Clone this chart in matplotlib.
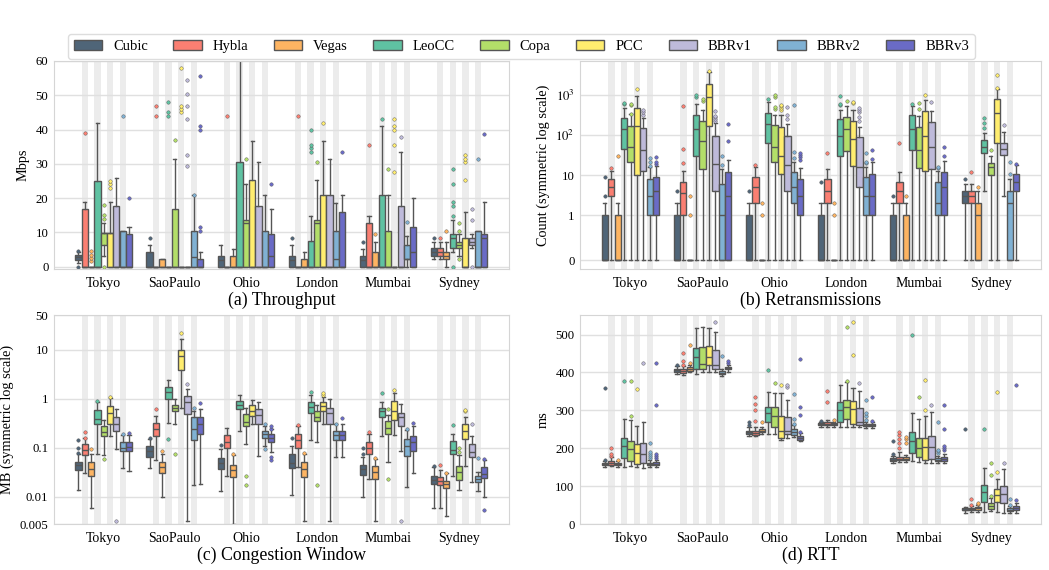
import matplotlib.pyplot as plt
from matplotlib.patches import Patch
import numpy as np

plt.rcParams['font.family'] = 'serif'
plt.rcParams['font.serif'] = ['Liberation Serif', 'DejaVu Serif']
plt.rcParams['mathtext.fontset'] = 'stix'

CITIES = ['Tokyo', 'SaoPaulo', 'Ohio', 'London', 'Mumbai', 'Sydney']
ALGOS = ['Cubic', 'Hybla', 'Vegas', 'LeoCC', 'Copa', 'PCC', 'BBRv1', 'BBRv2', 'BBRv3']
COLORS = ['#4F6578', '#FA7F72', '#FDB462', '#5FC2A2', '#B3DE69',
          '#FFED6F', '#BEBADA', '#80B1D3', '#6A6BC6']
LINE = '#555555'

# box stats per city, per algorithm: (whislo, q1, median, q3, whishi)
THR_STATS = [
    [(1.0, 2.0, 2.7, 3.3, 4.3), (0, 0, 0, 16.8, 19), (0, 0, 0, 0, 0), (0, 0, 0, 25, 42), (3.2, 6.4, 9.7, 9.7, 12.7),
     (0, 0, 9.7, 9.7, 19), (0, 0, 0, 17.8, 26), (0, 0, 0, 10.5, 10.5), (0, 0, 0, 9.5, 11.5)],
    [(0, 0, 0, 4.3, 6.3), (0, 0, 0, 0, 0), (0, 0, 0, 2.1, 2.1), (0, 0, 0, 0, 0), (0, 0, 0, 16.8, 31.5),
     (0, 0, 0, 0, 0), (0, 0, 0, 0, 0), (0, 0, 2.7, 10.5, 21), (0, 0, 0, 2.2, 4.3)],
    [(0, 0, 2, 3.2, 6.3), (0, 0, 0, 0, 0), (0, 0, 0, 3.2, 5.2), (0, 0, 0, 30.5, 62), (0, 0, 12.7, 13.7, 24.2),
     (0, 0, 0, 25.2, 36.8), (0, 0, 0, 17.8, 30.5), (0, 0, 0, 10.5, 21), (0, 0, 3.2, 9.5, 16.8)],
    [(0, 0, 2, 3.2, 6.3), (0, 0, 0, 0, 0), (0, 0, 0, 2.1, 4.3), (0, 0, 0, 7.5, 14.7), (0, 0, 12.7, 13.7, 25.2),
     (0, 0, 0, 21, 36.8), (0, 0, 0, 21, 31.5), (0, 0, 2.2, 10.5, 18.5), (0, 0, 0, 15.8, 21)],
    [(0, 0, 2, 3.2, 5.2), (0, 0, 0, 12.6, 14.7), (0, 0, 0, 4.3, 7.3), (0, 0, 0, 21, 41), (0, 0, 0, 10.5, 21),
     (0, 0, 0, 0, 0), (0, 0, 0, 17.8, 33.5), (0, 2.2, 2.2, 6.3, 9), (0, 0, 4.3, 11.5, 20)],
    [(2.1, 3.2, 4.3, 5.3, 7.3), (2.1, 3.2, 4.3, 5.3, 7.3), (0, 2.1, 3.2, 4.3, 7.3), (4.3, 5.3, 8.5, 9.5, 13.7),
     (3.2, 5.3, 6.3, 7.3, 9.5), (0, 0, 0, 8.4, 15.8), (5.3, 6.3, 7.3, 8.4, 9.5), (0, 0, 0, 10.5, 10.5),
     (0, 0, 8.4, 9.5, 18.8)],
]
THR_FLIERS = [
    [[0, 4.6], [39], [1.5, 2.5, 3.5, 4.5], [], [0, 14, 15, 18], [23, 24, 25], [], [44], [20]],
    [[8.5], [44, 47], [], [44, 45, 48], [37], [45, 46, 47, 58], [29.5, 32.5, 43, 47, 50.5, 54.5], [21],
     [10.5, 11.5, 40, 41, 55.5]],
    [[], [44], [], [], [31.5], [], [], [], [24.2]],
    [[8.5], [44], [], [33.5, 34.5, 35.5, 40], [30.5], [42], [], [], [33.5]],
    [[7.3], [35.5], [9.5], [43], [28.5], [27.5, 35.5, 40, 41, 43], [37.8], [13], []],
    [[8.5], [8.5], [10.5], [0, 14.7, 17.8, 18.8, 24.2, 28.5], [2.1, 10.5, 12.6], [25.2, 30.5, 31.5, 32.5],
     [0, 13.7, 16.8], [31.5], [38.8]],
]

RETX_STATS = [
    [(0, 0, 0, 1, 2), (0, 3, 5, 8, 13), (0, 0, 0, 1, 2), (0, 45, 140, 270, 480), (0, 22, 50, 170, 330),
     (0, 10, 170, 480, 950), (0, 13, 42, 150, 260), (0, 1, 3, 8, 16), (0, 1, 4, 9, 17)],
    [(0, 0, 0, 1, 2), (0, 1, 3.6, 7, 13), (0, 0, 0, 0, 0), (0, 30, 140, 320, 580), (0, 14, 70, 230, 430),
     (0, 170, 870, 1900, 3800), (0, 4, 19, 95, 200), (0, 0, 1, 6, 14), (0, 0, 3, 12, 24)],
    [(0, 0, 0, 1, 2), (0, 2, 5, 9, 16), (0, 0, 0, 0, 0), (0, 65, 185, 360, 650), (0, 21, 52, 175, 320),
     (0, 11, 31, 160, 310), (0, 4, 18, 95, 190), (0, 2, 5, 12, 22), (0, 1, 3, 8, 15)],
    [(0, 0, 0, 1, 2), (0, 2, 4, 8, 14), (0, 0, 0, 0, 0), (0, 31, 95, 250, 430), (0, 40, 140, 280, 520),
     (0, 17, 80, 220, 410), (0, 5, 16, 90, 160), (0, 1, 3, 9, 16), (0, 1, 3, 11, 21)],
    [(0, 0, 0, 1, 2), (0, 2, 4, 7, 12), (0, 0, 0, 1, 2), (0, 42, 140, 310, 540), (0, 15, 42, 160, 300),
     (0, 13, 95, 400, 750), (0, 14, 52, 210, 400), (0, 1, 2, 7, 13), (0, 1, 5, 12, 23)],
    [(0, 2, 3, 4, 6), (0, 2, 3, 4, 6), (0, 0, 1, 2, 4), (4, 35, 50, 75, 110), (0, 10, 16, 20, 30),
     (0, 65, 360, 780, 1400), (3, 32, 45, 65, 120), (0, 0, 2, 4, 8), (0, 4, 7, 11, 18)],
]
RETX_FLIERS = [
    [[3, 9], [15], [30], [600, 620], [330, 550, 600], [1400], [320, 370, 420], [17, 22, 27], [19, 22, 28]],
    [[4], [20, 45, 530], [1, 3], [900, 1000], [700, 800], [3900], [220, 250, 280, 300, 400], [18, 30], [70, 190]],
    [[4], [18], [1, 2], [800], [450, 500, 900, 1000], [420, 480, 520, 560], [250, 320, 500], [27, 38, 550],
     [24, 28, 32, 35]],
    [[7], [35], [1, 2], [550, 600, 950], [720], [630, 650], [230, 280, 380, 430, 470], [20, 22, 35], [26, 43]],
    [[3], [62], [3], [580], [450, 620], [1000], [650], [15, 16], [30, 50]],
    [[8], [12], [5], [150, 200, 270], [42], [1450, 3200], [180], [11, 22], [19]],
]

CWND_STATS = [
    [(0.014, 0.035, 0.044, 0.052, 0.075), (0.03, 0.07, 0.09, 0.12, 0.16), (0.008, 0.027, 0.037, 0.05, 0.075),
     (0.075, 0.3, 0.38, 0.58, 0.85), (0.07, 0.17, 0.21, 0.27, 0.36), (0.17, 0.3, 0.5, 0.7, 1.05),
     (0.095, 0.22, 0.3, 0.43, 0.62), (0.038, 0.085, 0.1, 0.13, 0.18), (0.033, 0.085, 0.105, 0.13, 0.18)],
    [(0.038, 0.065, 0.085, 0.11, 0.15), (0.055, 0.17, 0.24, 0.32, 0.45), (0.01, 0.03, 0.04, 0.052, 0.075),
     (0.32, 1.0, 1.35, 1.75, 2.4), (0.3, 0.55, 0.65, 0.75, 1.0), (0.65, 3.8, 7.5, 10, 16),
     (0.0055, 0.48, 0.85, 1.15, 1.6), (0.017, 0.14, 0.24, 0.42, 0.55), (0.018, 0.19, 0.3, 0.42, 0.62)],
    [(0.013, 0.037, 0.048, 0.063, 0.095), (0.027, 0.1, 0.13, 0.18, 0.25), (0.005, 0.025, 0.035, 0.045, 0.07),
     (0.22, 0.6, 0.75, 0.9, 1.2), (0.12, 0.28, 0.34, 0.48, 0.65), (0.3, 0.45, 0.55, 0.75, 0.95),
     (0.068, 0.3, 0.47, 0.6, 0.85), (0.11, 0.16, 0.19, 0.22, 0.27), (0.08, 0.13, 0.155, 0.19, 0.24)],
    [(0.011, 0.038, 0.049, 0.075, 0.11), (0.04, 0.1, 0.14, 0.19, 0.27), (0.0055, 0.025, 0.036, 0.05, 0.075),
     (0.14, 0.5, 0.68, 0.85, 1.2), (0.13, 0.35, 0.42, 0.55, 0.75), (0.3, 0.55, 0.72, 0.85, 1.1),
     (0.0055, 0.3, 0.5, 0.65, 1.0), (0.065, 0.14, 0.18, 0.22, 0.3), (0.065, 0.14, 0.18, 0.22, 0.3)],
    [(0.01, 0.028, 0.037, 0.045, 0.065), (0.023, 0.075, 0.1, 0.13, 0.19), (0.0055, 0.023, 0.032, 0.043, 0.06),
     (0.17, 0.42, 0.55, 0.65, 0.85), (0.05, 0.19, 0.25, 0.35, 0.47), (0.18, 0.37, 0.55, 0.88, 1.3),
     (0.085, 0.27, 0.42, 0.52, 0.78), (0.016, 0.067, 0.11, 0.15, 0.23), (0.031, 0.085, 0.13, 0.17, 0.27)],
    [(0.008, 0.018, 0.022, 0.026, 0.04), (0.008, 0.017, 0.021, 0.025, 0.035), (0.0065, 0.015, 0.018, 0.021, 0.03),
     (0.027, 0.073, 0.09, 0.135, 0.19), (0.014, 0.022, 0.032, 0.042, 0.07), (0.042, 0.15, 0.22, 0.3, 0.42),
     (0.02, 0.065, 0.083, 0.12, 0.17), (0.013, 0.02, 0.023, 0.026, 0.032), (0.01, 0.024, 0.029, 0.04, 0.055)],
]
CWND_FLIERS = [
    [[0.077, 0.1, 0.14], [0.16, 0.21], [0.095], [0.9], [0.06], [1.1], [0.0055], [0.19], [0.2]],
    [[0.155], [0.62], [0.085], [0.15], [0.075], [22], [2.0], [0.65], [0.82]],
    [[0.115], [], [0.075], [], [0.017, 0.026], [], [], [0.095, 0.3], [0.057, 0.066, 0.24, 0.27]],
    [[0.16], [0.29], [0.077], [1.35], [0.017], [1.2, 1.3], [], [0.3], [0.4]],
    [[0.075, 0.1], [0.21], [0.062], [1.3], [0.023, 0.6], [1.5], [0.0055], [0.24], [0.32]],
    [[0.043], [0.045], [0.03], [0.29], [0.08, 0.1], [0.55, 0.58], [0.3], [0.063], [0.0075, 0.058]],
]

RTT_STATS = [
    [(150, 155, 158, 162, 166), (152, 155, 160, 167, 176), (150, 155, 158, 162, 166), (150, 174, 205, 226, 276),
     (153, 166, 197, 220, 274), (150, 158, 188, 212, 258), (148, 160, 186, 215, 268), (150, 155, 158, 162, 168),
     (150, 155, 158, 163, 170)],
    [(396, 402, 406, 410, 416), (392, 398, 403, 408, 418), (400, 404, 409, 414, 420), (395, 410, 442, 465, 518),
     (400, 410, 423, 467, 520), (400, 420, 440, 470, 518), (400, 410, 420, 460, 508), (390, 395, 399, 403, 410),
     (402, 408, 411, 414, 420)],
    [(232, 238, 242, 246, 255), (232, 236, 240, 246, 256), (238, 242, 246, 250, 256), (238, 268, 292, 310, 348),
     (238, 256, 285, 310, 345), (222, 228, 245, 285, 345), (228, 238, 246, 282, 326), (230, 236, 242, 250, 262),
     (218, 222, 227, 232, 240)],
    [(256, 260, 263, 266, 270), (256, 260, 264, 268, 275), (256, 260, 263, 266, 270), (255, 268, 302, 322, 368),
     (256, 278, 310, 328, 375), (255, 265, 303, 325, 358), (255, 260, 268, 307, 352), (254, 258, 261, 265, 270),
     (254, 258, 261, 265, 270)],
    [(162, 166, 170, 174, 180), (163, 168, 172, 177, 190), (163, 168, 172, 176, 183), (165, 188, 220, 242, 292),
     (163, 176, 200, 226, 276), (160, 170, 202, 228, 285), (160, 172, 203, 233, 295), (162, 166, 170, 174, 180),
     (160, 166, 171, 176, 185)],
    [(30, 36, 38, 41, 46), (32, 36, 39, 42, 48), (32, 38, 42, 45, 50), (32, 58, 84, 104, 148), (33, 40, 48, 55, 68),
     (32, 58, 76, 92, 120), (30, 55, 80, 100, 146), (30, 35, 38, 42, 48), (30, 36, 42, 48, 56)],
]
RTT_FLIERS = [
    [[168, 360], [180, 185, 200], [168], [377], [286, 377], [355], [425], [175, 180, 185, 190, 215],
     [175, 180, 185, 313, 425]],
    [[420], [420, 430, 450], [425, 473], [], [], [], [532], [443], [425, 430]],
    [[262, 268], [272, 300, 318, 336], [268], [406], [373], [366], [362, 366], [265, 278, 342], [244, 287, 310, 435]],
    [[272], [322, 350], [274], [], [377, 520], [445, 533], [373], [275, 285, 292, 328], [272, 334]],
    [[184, 220], [200, 215, 225, 235, 244], [215, 225, 230], [498], [334], [300, 380], [315],
     [188, 192, 196, 270], [195, 200, 205, 250, 313]],
    [[250], [50, 65], [52, 55], [252], [75, 130, 160], [136, 348], [160], [50, 65], [64, 368]],
]


def draw_panel(ax, stats, fliers, ylabel, title):
    width = 0.8 / len(ALGOS)
    # grey stripes behind every other algorithm slot
    for c in range(len(CITIES)):
        for i in (1, 3, 5, 7):
            x = c + (i - 4) * width
            ax.axvspan(x - width / 2, x + width / 2, color='#ececec', lw=0, zorder=0)
    for k, color in enumerate(COLORS):
        boxes = []
        for c in range(len(CITIES)):
            lo, q1, med, q3, hi = stats[c][k]
            boxes.append(dict(whislo=lo, q1=q1, med=med, q3=q3, whishi=hi, fliers=fliers[c][k]))
        pos = np.arange(len(CITIES)) + (k - 4) * width
        ax.bxp(boxes, positions=pos, widths=width * 0.98, patch_artist=True, manage_ticks=False,
               boxprops=dict(facecolor=color, edgecolor=LINE, lw=1),
               whiskerprops=dict(color=LINE, lw=1), capprops=dict(color=LINE, lw=1),
               medianprops=dict(color=LINE, lw=1),
               flierprops=dict(marker='o', ms=2.5, mfc=color, mec=LINE, mew=0.3))
    ax.set_xticks(range(len(CITIES)), CITIES)
    ax.set_xlim(-0.7, 5.7)
    ax.grid(axis='y', color='#e0e0e0', lw=1)
    ax.set_axisbelow(True)
    for s in ax.spines.values():
        s.set_color('#d5d5d5')
    ax.tick_params(length=0)
    ax.tick_params(axis='x', labelsize=10, pad=6)
    ax.tick_params(axis='y', labelsize=9.2, pad=4)
    ax.set_ylabel(ylabel, fontsize=10.3)
    ax.set_xlabel(title, fontsize=12.8, labelpad=1)


fig = plt.figure(figsize=(10.49, 5.7), dpi=100)
ax_a = fig.add_axes([0.0515, 0.528, 0.4335, 0.365])
ax_b = fig.add_axes([0.553, 0.528, 0.4395, 0.365])
ax_c = fig.add_axes([0.0515, 0.0807, 0.4335, 0.3663])
ax_d = fig.add_axes([0.553, 0.0807, 0.4395, 0.3663])

draw_panel(ax_a, THR_STATS, THR_FLIERS, 'Mbps', '(a) Throughput')
ax_a.set_ylim(-0.7, 60)
ax_a.set_yticks(range(0, 61, 10))

draw_panel(ax_b, RETX_STATS, RETX_FLIERS, 'Count (symmetric log scale)', '(b) Retransmissions')
ax_b.set_yscale('symlog', linthresh=1, linscale=1)
ax_b.set_ylim(-0.2, 7000)
ax_b.set_yticks([0, 1, 10, 100, 1000], ['0', '1', '10', '$10^2$', '$10^3$'])
ax_b.yaxis.set_minor_locator(plt.NullLocator())

draw_panel(ax_c, CWND_STATS, CWND_FLIERS, 'MB (symmetric log scale)', '(c) Congestion Window')
ax_c.set_yscale('symlog', linthresh=0.01, linscale=1)
ax_c.set_ylim(0.005, 50)
ax_c.set_yticks([0.005, 0.01, 0.1, 1, 10, 50], ['0.005', '0.01', '0.1', '1', '10', '50'])
ax_c.yaxis.set_minor_locator(plt.NullLocator())

draw_panel(ax_d, RTT_STATS, RTT_FLIERS, 'ms', '(d) RTT')
ax_d.set_ylim(0, 551)
ax_d.set_yticks(range(0, 501, 100))

handles = [Patch(facecolor=c, edgecolor=LINE, lw=1) for c in COLORS]
fig.legend(handles, ALGOS, ncol=len(ALGOS), loc='center', bbox_to_anchor=(0.497, 0.918),
           fontsize=10.5, frameon=True, edgecolor='#d5d5d5', fancybox=True,
           handlelength=1.95, columnspacing=1.75, handletextpad=0.75)

fig.savefig('out.png', dpi=100)
